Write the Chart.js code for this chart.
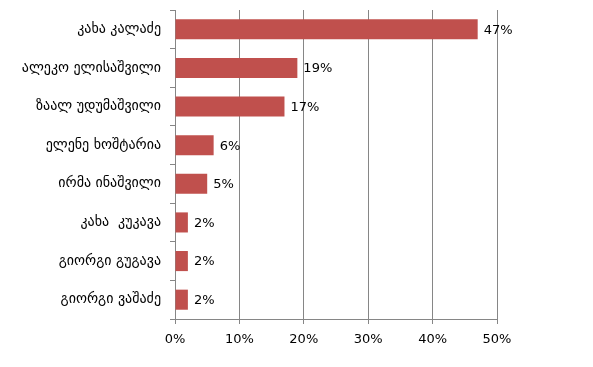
<!DOCTYPE html>
<html>
<head>
<meta charset="utf-8">
<script src="https://cdn.jsdelivr.net/npm/chart.js@4"></script>
<style>
html,body{margin:0;padding:0;background:#fff;}
#wrap{width:593px;height:367px;position:relative;}
</style>
</head>
<body>
<div id="wrap"><canvas id="c" width="593" height="367"></canvas></div>
<script>
const categories = ["კახა კალაძე","ალეკო ელისაშვილი","ზაალ უდუმაშვილი","ელენე ხოშტარია","ირმა ინაშვილი","კახა  კუკავა","გიორგი გუგავა","გიორგი ვაშაძე"];
const values = [47, 19, 17, 6, 5, 2, 2, 2];
const xTicks = [0, 10, 20, 30, 40, 50];

const FONT = "'DejaVu Sans', sans-serif";
const valueLabels = {
  id: 'valueLabels',
  afterDatasetsDraw(chart) {
    const ctx = chart.ctx;
    const meta = chart.getDatasetMeta(0);
    ctx.save();
    ctx.font = "13px " + FONT;
    ctx.fillStyle = "#000";
    ctx.textAlign = "left";
    ctx.textBaseline = "middle";
    meta.data.forEach((bar, i) => {
      ctx.fillText(values[i] + "%", bar.x + 6, bar.y + 1);
    });
    ctx.restore();
  }
};

new Chart(document.getElementById('c'), {
  type: 'bar',
  data: {
    labels: categories,
    datasets: [{
      data: values,
      backgroundColor: '#C0504D',
      borderWidth: 0,
      categoryPercentage: 0.52,
      barPercentage: 1.0
    }]
  },
  options: {
    indexAxis: 'y',
    responsive: false,
    animation: false,
    events: [],
    layout: { padding: { top: 10, right: 96, bottom: 11.4, left: 0 } },
    plugins: { legend: { display: false }, tooltip: { enabled: false } },
    scales: {
      x: {
        min: 0, max: 50,
        afterBuildTicks(scale) { scale.ticks = xTicks.map(v => ({ value: v })); },
        grid: { color: '#868686', lineWidth: 1, tickLength: 5, drawTicks: true },
        border: { display: true, color: '#868686', width: 1 },
        ticks: { color: '#000', font: { family: FONT, size: 13 }, padding: 8, callback: v => v + '%' }
      },
      y: {
        afterFit(scale) { scale.width = 175; scale.paddingTop = 0; scale.paddingBottom = 0; },
        grid: { offset: true, drawOnChartArea: false, drawTicks: true, tickLength: 5, color: '#868686' },
        border: { display: true, color: '#868686', width: 1 },
        ticks: { color: '#000', font: { family: FONT, size: 14 }, padding: 9 }
      }
    }
  },
  plugins: [valueLabels]
});
</script>
</body>
</html>
